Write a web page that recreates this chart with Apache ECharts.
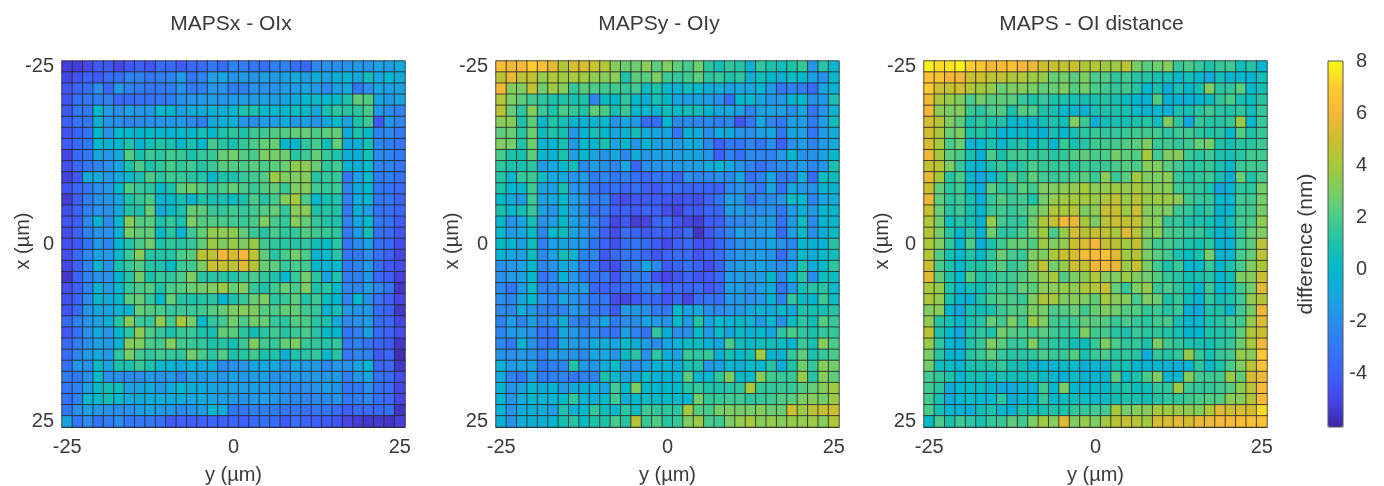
<!DOCTYPE html>
<html>
<head>
<meta charset="utf-8">
<title>MAPS - OI</title>
<script src="https://cdn.jsdelivr.net/npm/echarts@6/dist/echarts.min.js"></script>
<style>
  html, body { margin: 0; padding: 0; background: #fff; }
  #chart { width: 1384px; height: 486px; }
</style>
</head>
<body>
<div id="chart"></div>
<script>
// difference values in nm, 33 rows x 33 columns
const mapsX = [
  [-5.2,-5.3,-5,-4.2,-4.3,-5,-4.4,-4,-4.4,-3.5,-3.6,-4.2,-3.7,-3.5,-3,-3.5,-2.5,-2.8,-3,-3.3,-2.7,-2.4,-3.2,-3.7,-2.3,-2,-2,-1.8,-1.6,-1.8,-1.2,-1.4,-0.8],
  [-5,-4.6,-4,-4.2,-3.5,-3.2,-2.5,-2.5,-3,-2.7,-2.5,-1.5,-3,-2.5,-1.3,-1,-1.8,-1.5,-1.8,-1.2,-1.5,-1.2,-0.7,-1.3,-0.5,-1.2,-0.5,-0.3,-0.9,0.5,-0.9,-0.1,-0.7],
  [-4.5,-3.8,-3.4,-2,-3.7,-1.5,-2.5,-2.8,-3,-3,-2.8,-1.8,-2.8,-2.6,-1.6,-1.7,-2.8,-2.6,-2,-2,-1.9,-1.4,-1.5,-1,-1.5,-2.2,-1.2,-0.8,-3,-2,-1,-1.3,-1.2],
  [-4.5,-3.3,-3,-2.6,-2.6,-3.7,-3.7,-3.2,-3.2,-2.9,-2.7,-1.8,-1.7,-1.5,-1.4,-1.7,-1.6,-1.3,-1.4,-1.1,-1.3,-1,-0.7,0,0.3,0,0.1,0.9,2.4,2.2,-1,-1.5,-1],
  [-4.3,-3,-3,0,-1.5,-2,-1.2,-1.8,-1.5,-0.1,-0.2,-1.2,-0.6,-0.6,-0.3,-0.5,-0.1,0.9,0.9,0,0,-0.1,0.3,0.1,-0.8,0.8,1.3,1.2,1.3,2,-1.5,-2,-2.5],
  [-4,-3.2,-3,-0.5,-1.8,-2,-2.4,-2.1,-2,-1.8,-1.5,-1.6,-2.3,-2.7,-0.8,-0.5,-0.4,-1.7,-2,-1.4,-1.4,-0.6,-1.5,-1.2,-1.7,-0.8,0,-1.1,1,1.7,-4.3,-1.6,-2.3],
  [-4.5,-3.8,-3.1,0,-1.8,0,-0.1,-0.2,0,-0.1,-0.3,0.1,-0.1,0.7,0,1,1.4,1,1.7,1.7,2.2,2.2,2.5,2.5,2,2.4,2.5,-0.6,1,0,-2.5,-2.2,-3],
  [-4.1,-3.5,-3,-0.1,-0.4,-0.2,1,-0.2,0.6,1.1,0.8,0,0.9,-0.1,1.9,1.2,0.8,1.5,2,2.5,2.6,-0.2,-0.1,1.4,1.9,0.5,2.5,-0.7,-0.5,0.8,-2.3,-2.6,-3],
  [-5,-3.7,-3,-0.9,-1.7,-0.8,2.2,0.8,1.7,1.3,1.8,1.6,0.9,1.5,1.6,2.5,2.8,2.2,2,3,2.8,2.7,1.3,1.7,2.5,1.6,1,-0.5,-0.5,0.7,-2.2,-2.4,-3],
  [-4.7,-3.7,-3,-2.5,-2,-1,0.9,2,1,1.4,2,1.5,1.7,1.2,1.7,2.3,2.2,2,2.3,2,2.3,2.6,3.4,3.4,2.6,1.4,1.8,-0.3,-0.5,0.1,-2.4,-2.5,-3.1],
  [-5.2,-4.3,-0.7,-0.7,-1.6,-0.8,0,0.8,2.1,1.3,1.8,1.6,1.2,1.1,0,1,1,1.5,1.8,2.2,3.8,3,3,3.2,1.2,1.5,1.6,-3,-1.3,0,-2.8,-2.6,-3.2],
  [-4.5,-3.7,-3.1,-2,-1.6,-0.1,2.1,1.5,1.3,0.1,0.9,2.4,2.7,2.2,1.6,2,2.5,2,1.6,2.2,2.5,1.6,3,3.2,1.8,1.5,1.7,-2.3,-0.7,-0.1,-3,-3.2,-3.6],
  [-5.3,-4.1,-2.8,-1.8,-1.7,-1,0.9,1.5,2,-0.3,0,0.7,-0.2,1,0.8,0.8,0.3,0.9,2,1.2,1.9,3.2,4,2,0,0.7,1,-2.5,-0.8,-0.2,-3,-3,-3.8],
  [-4.7,-3.9,-2.6,-1.9,-1.9,-0.7,1.1,0.9,2.5,-0.7,0.2,0.9,2.5,2.4,1.6,1.5,1.8,1.5,1.8,2.2,2.5,1.5,3.3,3.3,1,1.2,1.1,-2.8,-0.5,-1.4,-3.2,-3.2,-3.8],
  [-4.5,-4,-2.3,-0.3,-2.2,-0.1,3.3,2.2,2.3,0.9,1.5,0.8,3,2.2,2.2,2,1.8,1.6,2,3,2,1.5,3.2,2.5,1.5,1.1,1,-2.5,-1,0,-3,-3.2,-4.2],
  [-4.8,-4,-2.6,-1.8,-1.9,-0.4,2.9,2.4,2.5,0,1.3,-0.3,1.7,2.5,3.5,3.5,3.4,2.4,1.6,1.2,2,1.4,1.5,2.2,1.8,1.6,1.4,-2.8,-1.5,0.6,-3.2,-3.5,-4.5],
  [-4.7,-4.3,-3.1,-1.5,-2.4,-0.2,1.1,2,2.7,1,1.5,1.3,1.5,2.4,3.8,3,3.6,3,3.7,1.8,1.4,1.3,1.2,1.4,0.6,0.2,1.2,-3,-2.2,-1.2,-3.4,-3.7,-4.7],
  [-4.8,-3.5,-2.3,-1.2,-1.6,-0.1,1.6,3.2,1.2,1.1,1.2,2,2.2,4.6,4.6,6,5.2,6,4.6,2.4,1.2,2,2.8,2,-0.3,0,1.2,-3,-3,-2,-3.3,-3.8,-5],
  [-5,-4,-2.6,-0.2,-1.8,0.8,1.5,2.2,1.2,1,0.2,1.7,1.8,3,5,4.8,4.5,5.5,4.4,2.5,2.4,1.5,2,1.8,0,-0.3,0,-3,-2.6,-1.5,-3.6,-4.2,-4.7],
  [-5.5,-4,-2.5,-1.8,-2,-0.2,1.2,2.8,1,1.5,1.4,2,3,1.2,1.2,1.2,1,1.5,2,1.4,1,-0.2,1.6,2.8,1.3,-1,1,-2.8,-2.6,-1.6,-3.7,-4.1,-5.2],
  [-4.8,-4,-2.6,-0.3,-1.4,-0.1,1.5,2,2.2,1,2,2.2,2.6,2.8,3,3.8,2.6,3,1.5,1,1.8,2.5,2,3,1,1.3,0,-2.4,-2.4,-1.3,-2.3,-3,-5.5],
  [-4.6,-3.8,-2.2,0,-0.7,0,2.3,2.5,1.5,0,2.5,1.2,1,1.1,1.2,-0.2,0.9,1.5,2.5,3,1.3,1.6,2.4,1.1,1.7,0.3,-0.1,-2.4,-0.1,-2,-3.2,-4,-5],
  [-4.5,-3.6,-1.8,-1,-1.1,-0.3,-0.2,2.5,2.2,2,1.5,1.7,1.6,1.8,2.2,2.5,3,3.2,3,2.2,2,2.5,2.5,1.8,1.5,-0.3,0.7,-1.5,-1.8,-1.6,-3.5,-3.8,-5.5],
  [-3.5,-2.5,-1.8,-1.2,-0.4,1.2,3.2,1.7,1.5,3.5,1.8,4,2.8,0,1.4,1.8,2.8,2,2.8,2.5,1.5,1.3,2.2,2,1.2,0.9,-0.8,-2.2,-1.8,-1.4,-3.5,-3.7,-5],
  [-4.4,-3.3,-2,-0.8,-1.7,-0.1,1.3,3.4,2,1.5,0.9,1.6,1.6,1,0.8,2.5,2.3,1.3,0.6,1.2,1.8,1.2,1.6,2,1.2,0.1,-0.1,-3,-2.6,-1.3,-3.5,-4,-4.8],
  [-3.7,-2.7,-2,-1.2,-1.5,-0.3,3.2,3,2,1.8,3.2,1.8,1.6,1.5,1,1.2,0.7,1.7,3,1.8,1.5,2.5,3,1.6,1.4,1.2,1.5,-3,-2.5,-3.2,-3.8,-4.2,-5.5],
  [-3.4,-2.5,-1.5,-0.8,-1.5,1.3,2.9,1.8,1.4,1.8,1.5,1.4,2.8,2,1.3,2.2,0.9,1.2,1.8,0.9,1,-0.5,1,1.2,1.4,-0.1,1.2,-3,-2.5,-2.5,-4.3,-3.7,-5.8],
  [-3.3,-1.7,-2,0.2,-1,0.9,0.8,1.5,1,0,-0.2,-0.7,-0.4,-0.8,-0.5,-2.2,-2,-1.7,-1,-0.9,-0.7,-2,-1,-1.5,-1.5,-2.3,-1.7,-1.8,-1.2,-0.3,-3.8,-3.6,-5.5],
  [-2.8,-3,-2,0,-2,-2,-2.2,-2.1,-1.6,-1.8,-1.5,-2.5,-1.3,-1.5,-1.3,-1.7,-1.2,-1.5,-1.4,-1.2,-2,-1.7,-1.5,-1.6,-1.5,-1.8,-1.5,-2.7,-1.7,-1,-3.3,-3.5,-4.8],
  [-3,-2.5,-1.3,0.2,0.6,0.5,-1.2,-1,-0.8,-1.5,-0.7,-0.1,-0.5,-0.7,-1,-1.2,-1.3,-1.3,-1.2,-1.5,-1.5,-2,-2.3,-2,-1.8,-1.5,-1.8,-3,-3,-2,-3.3,-3.6,-5],
  [-3.2,-2.6,-0.2,0,0.6,0,-0.8,-0.7,-0.6,-0.5,-0.7,-0.5,-1,-0.8,-1,-1.4,-1.6,-1.8,-1.5,-1.3,-1.6,-2,-2.2,-2.4,-2.3,-2.2,-1.7,-3,-2.8,-2.4,-3.3,-3.6,-5],
  [-3,-2,-1.3,-1.5,-1.7,-2,-2,-1.3,-1,-1.5,-1.5,-2.2,-1.8,-1.4,-0.2,-0.7,-3,-3,-2.5,-2.7,-2.8,-3,-3,-3.2,-3,-3,-3.4,-4,-3.6,-3.6,-3.6,-3.2,-5.6],
  [-1,-3,-2.2,-3.2,-2.8,-2.2,-3,-3,-3,-3.2,-4.2,-4,-4.2,-4,-3.8,-4,-3.8,-4,-3.7,-3.3,-3.5,-4.2,-3.6,-3.9,-4.1,-4.2,-4.5,-5,-5.3,-5.5,-5.4,-5.6,-5.2]
]
const mapsY = [
  [6.3,5.8,6.2,7,6.4,5.6,4.2,5.3,5.2,4.9,4.3,3.2,2.6,2.7,3.3,2.3,3.1,2.4,1.9,2.7,1.4,0.6,1.4,1.2,-0.4,1.4,1,0.5,1,1.6,-1.7,1.2,-0.2],
  [4.6,5.7,4.5,4.7,3.6,4.2,3.8,4,3.8,3.4,3.2,3.3,1,2.4,2.3,3,1.7,1.5,1.8,2.4,1.3,1.5,1,1.3,-0.5,0.6,0,-0.5,0.3,-0.1,-1.2,-1.8,0],
  [6,3.2,3,4.8,2.7,3.8,3.2,1.5,2.3,2,1.8,1.8,1.5,1.8,0.2,1,0,-0.3,0.5,0,-0.6,-0.5,-1.2,-0.9,-1,-0.3,-1.5,-3,-2.5,-2.8,-3.5,-1,-0.3],
  [4.3,3,2.4,1.8,1.3,1,1,0.8,1,-2.3,0.3,0,1.4,0,-0.5,0.8,0,-1,-1.4,-1,-1.5,-2,-3.5,-0.1,0,-1,-1.7,-1.5,-0.2,0,-1.8,-1.6,0.8],
  [4.5,2.5,1.3,3.2,1.6,1,2,1.5,1.1,2.4,2,0.7,1.6,0,-0.1,-0.2,0.5,0.1,0.6,0.5,-0.3,-0.9,-0.9,-1.2,-2.5,-1.2,-1,-1.3,-2,-1,-3,-1.7,-0.4],
  [3.3,3.2,1,2.4,0,1.1,0.7,-0.2,-0.4,-0.3,0,-1.8,-0.9,-1.5,-3.6,-3.4,-0.1,-2.3,-2.2,-2.3,-2.3,-2.6,-2.2,-4.5,-3,-0.9,-2.5,-2.9,-1.2,-1.3,-2.8,-1.3,0.5],
  [2.4,2.6,1.2,2.7,0.4,1.1,0.8,-1.5,-0.2,0.7,0,-1,-0.3,0.6,-0.8,-1,-1,-3,-0.4,-0.8,-2,-0.8,-0.7,-1.6,-1.9,-1.2,-1,-3,-1,-1.2,-3,-1.4,-0.6],
  [3,2.8,1,2.7,-0.3,-0.2,0.8,-1.5,0,-0.2,0.9,-1,0,-1.7,-0.2,-1.2,-1.1,-1.6,-0.8,-0.8,-2.2,-4,-3,-3,-2.3,-3,-2,-4,-2,-1.3,-2.4,-1.4,-0.8],
  [1.9,1,0.8,2.4,0,-0.4,0.9,-1.3,-0.1,-1,-1.8,-0.8,-2.3,-0.8,-1.7,-1.2,-1.1,-1.4,-1,-1,-1.8,-4.1,-2.6,-3.2,-2.2,-2.4,-2.6,-1.6,0,-1.8,-1.7,-1.2,0],
  [1.4,0.9,0.9,1.3,-1.5,-0.8,-0.1,0.5,-2.2,-1.5,-1.8,-2.4,-0.9,-3.8,-2,-1.8,-1.5,-1.5,-1.4,-1.2,-0.8,-0.3,-0.7,-1.8,-2.5,-3.2,-2.6,-2.1,-1.8,-1.4,-2.4,-1.7,0.8],
  [1.2,-0.2,1.5,1.7,0.3,-0.9,-0.7,-1.7,-1.4,-2.8,-2.3,-3,-2.6,-3.2,-3.6,-3,-3,-3.8,-1.9,-2.4,-2.3,-2,-2.2,-1,-3.2,-2.5,-1,-3,-2.8,-0.5,-3.6,0.4,0.3],
  [1,-0.1,0,1.7,-1,-1.2,0.8,-1.7,-1.9,-3.3,-3.5,-3.2,-3.8,-3.2,-4,-4.3,-3.4,-3.6,-3.8,-3.8,-3.8,-4,-2.4,-1.9,-2.2,-3,-1,-3.2,-1,-1.6,-1.8,-0.3,-0.2],
  [0,-0.7,-1.5,1.7,-1.2,-0.8,0,-1.3,-1.9,-2.9,-2.6,-4.5,-4.7,-4.4,-4.3,-4.1,-4.5,-4.6,-4.4,-4.7,-3.8,-3,-1.3,-1.5,-3.2,-2.2,-2.2,-1.7,0.3,-0.1,-2.5,-1,-0.6],
  [0.9,-0.1,0.6,1.5,-1.1,-1.7,-0.1,-1.3,-1.8,-3.3,-3,-4.2,-4,-4.3,-3.9,-4,-4.8,-5.1,-4.1,-4.3,-3.8,-3.8,-1.5,-1.3,-2,-2.1,-1.8,-3,-1.4,-0.5,-1.5,-0.2,-0.2],
  [0,-1.7,-1,0.7,-1.9,-1.3,0.1,-1.2,-1.8,-2.6,-3.6,-5,-4.3,-5.3,-5.1,-3.8,-3.5,-4.4,-5,-5.3,-4.2,-4.1,-2.6,-2.3,-2.1,-1.4,-1.5,-3.2,-1.5,0.3,-2.2,-0.2,-0.1],
  [0,-1.4,-0.9,0.2,-2.4,0.1,0.4,-1.1,-1.9,-2.5,-4,-4.8,-3.3,-3.8,-4.3,-3.8,-4.1,-4.4,-3.6,-5.6,-4.3,-3.5,-2.6,-1.1,-1.8,-1.6,-1.4,-3.5,-1.3,0.2,-2,-0.5,0.2],
  [0.2,-0.2,-1.2,0.5,-2.6,-1.3,-1,-1.5,-1.7,-3.2,-3.9,-4.6,-3.4,-3.1,-3.5,-4.2,-4.9,-4,-3.5,-4.6,-4.6,-3.8,-2.8,-2,-1.6,-1.6,-1,-1.8,-2.4,0,-0.4,-0.4,1.2],
  [-0.3,-1,-1.3,0.4,-2.2,-1.2,0.6,-0.3,-2.5,-2.3,-4.3,-3.6,-3,-3.1,-3.7,-4.5,-3.8,-3.5,-3.6,-4.5,-3.8,-3.5,-2.2,-1.6,-1.5,-1.3,-1.8,-3.5,-1.7,0,-0.6,0,0.4],
  [-2,-1.7,-1.2,0,-2.4,-1.8,-0.7,-1.2,-2.8,-3.1,-4.5,-4.7,-3.2,-2.7,-1,-2.2,-4.2,-3.8,-3.3,-4,-4.8,-3.8,-2,-1.3,-1.3,-1,-1.6,-2.2,-1.5,1,-0.7,0,1.3],
  [-2,-1.6,-1.2,0,-3.2,-2.4,-0.3,-1.6,-2.8,-3.2,-3,-4.5,-3,-2.8,-2.8,-4.6,-5,-4.4,-3.9,-4.4,-4.3,-3.7,-1.6,-1.3,-1.5,-1.3,0,-2.2,-0.2,1.2,-2,0.4,0.3],
  [-2.2,-3,-1.5,0.2,-2.6,-2.3,-2,-1.6,-1.3,-3.7,-4,-3.8,-3.4,-3.2,-2.8,-2.3,-4,-3.6,-3.8,-3.6,-4.4,-3.8,-1.4,-1.2,-2,-1.2,-0.5,-3,-1.6,0.6,1.2,1.2,0.1],
  [-2,-2.4,-1,-0.1,-2,-2.5,-0.9,-1.8,-2.4,-3,-3,-4.8,-5,-4.3,-3.4,-3.8,-4.5,-3.8,-5,-3.4,-3.1,-3.2,-1.6,-1.5,-1.9,-1.6,-0.2,-2.4,1.4,0.2,-0.2,1.7,0.3],
  [-2.2,-2.3,-0.6,-1.7,-2.6,-2.8,-2.4,-1.5,-2,-3.2,-3,-4.3,-1.4,-1.5,-2,-2.9,-2.9,0,-1,-0.9,-2,-2.3,-1.7,-1.5,-0.8,-0.3,-0.8,0,-0.8,1,0.7,0.7,1.2],
  [-2.6,-1.2,-2.5,-1.2,-2.5,-2,-0.5,-2.4,-3,-2,-1,-2.8,-2.1,-2,-1,-1.5,-1.8,0.1,-1.5,1.1,-1.1,0,-0.4,0.1,-0.3,-1.5,-0.1,-2,0.2,1.3,0.5,2.2,1.5],
  [-2.4,-1.6,-1.2,-2,-3.2,-3.2,-0.9,-1.5,-2.4,-2.4,-3,-3.2,-1.2,-2.5,-3.3,1.4,-0.5,-2,-2,0.2,-1.5,0.3,-1,0.2,-0.4,0.1,-1,1.3,2,1.4,0.9,1.5,1.5],
  [-2.2,-3,-0.2,-1.8,-3,-3.2,-0.8,-1.5,-1.8,-0.6,-0.6,-1,0.2,-0.5,-1.4,-2,-1,-0.4,0.3,0.4,-0.4,-0.9,2,0.5,0.1,0.5,0.6,0.3,-0.2,1.7,0.7,3.2,2],
  [-1.8,-2,-1.5,-1.8,-2.6,-1.5,-1.5,-1.8,-2.2,-0.9,-0.9,-1.8,0.1,1.2,-1.9,1.3,-0.6,-1.1,1.6,1.3,1.5,-0.5,0.7,0.1,0.6,3.8,-0.2,-0.4,1.5,2.4,0.9,1.5,2],
  [-0.4,-1.5,-1,-1.2,-3,-2.5,-2.5,1,-1.6,-1.8,-0.7,0.1,-1.5,-2,-1.3,-0.3,-0.3,-0.5,0.8,1,-1.6,-1.2,0,-0.5,0,-0.1,1.2,-0.6,1,2.7,1.5,3.2,2.8],
  [-0.7,-2.5,-3,-1.4,-2.8,-2.6,-2.4,-3,-2.6,-2.5,0.9,0,-1,-0.6,0.2,-0.3,-0.3,-0.2,2.3,-0.2,-0.1,1.4,3,0.1,0,3.2,1.8,1.6,1.6,3.7,1.2,3.2,2.4],
  [-0.3,-1.8,-1.2,0,-0.6,-0.3,-1.5,-0.8,-0.5,-0.4,-1,1.8,0,3,0,-0.1,0,0,1.2,1.5,1,1,1.2,1.4,4,1.5,1.5,1.6,1.6,2.2,2.5,3.2,3.9],
  [-0.3,-1.7,-0.8,0,-0.4,-0.3,0,1.4,-0.3,-0.5,0,1.8,-0.5,0,0.2,0.1,0.1,0,-0.2,2.8,1.5,1.6,1.8,1.8,1.3,1.5,1.8,2.2,2.3,3,3.2,2.8,3.8],
  [-0.4,-1.8,-0.6,-0.5,-0.6,-1.3,1,-0.3,0,1.4,0.5,0,1.3,0.3,1.7,1.4,1.4,1.3,4,2.2,2,2.8,3,2.8,2.8,3.2,2.6,2.6,5,3.8,4.5,4.8,5],
  [-0.4,-1.7,-0.6,-0.5,-0.5,-0.2,0.8,1.2,0.3,1,1,2,1.2,4.4,1.6,2.2,1.2,1.6,3,3.7,2,1.8,3,3.5,4,3.2,3.6,3.2,3.6,3.5,3.8,3.2,4.2]
]
const mapsDist = [
  [7.8,7.3,7.5,7.8,7,6.8,5.9,6.3,6.5,6,5.8,5,4.8,4.6,5,4.2,4.3,3.8,3.8,4.6,2.9,2.3,2.7,3.2,1.5,2,1.5,1,1.5,1.7,0.4,1.2,-0.2],
  [6.5,6.5,6,5.9,4.9,5.1,4.6,4.7,4.3,4.3,3.7,3.6,2.5,2.8,2.3,3,2,2.2,1.4,1.8,1.2,1.2,0.8,0.8,-0.1,0.6,0,-0.9,0.6,-0.2,0,-0.3,0.6],
  [6.9,5,4.7,5.1,4.4,3.9,3.6,2.6,3,3.2,2.9,2.4,2.5,3,2.2,2.8,2,1.8,1.5,1.8,1.2,-0.1,0.8,-0.5,0.8,0,0.7,3,1.3,1.4,2.3,-0.1,0.6],
  [5.8,4.2,3.6,3,2,2.8,2.3,2.4,2.3,1.5,1,1.5,1,0.9,0.7,0.7,0.8,1.1,0.8,0.3,-0.2,-0.3,2.2,-0.4,-0.4,-0.4,-0.2,0.3,1.4,2,0.8,0.4,1.2],
  [5.9,3.4,2.9,3.2,1.6,1.3,2,2.2,0.8,2.2,1.9,1,0.8,0,-0.2,-0.3,0.8,1,1,0.8,-0.1,-0.2,0,-0.4,0.8,0.8,1.3,1.8,1.2,1,1.4,0.5,1.5],
  [5.2,4.4,3,2.4,0.8,1.4,1,1,-0.1,-0.1,-0.2,0.6,1,0.6,3,1.7,-0.5,0.6,0.8,0.6,0.9,1.2,0.5,3,1.4,-0.8,1.5,1.2,1.2,1.6,3.8,-0.1,1.5],
  [5.1,4.2,2.6,3,0.9,1.1,0.7,-0.3,-0.1,0.2,-0.1,-0.3,0.8,-0.1,0.6,1.3,1.6,1.4,1.5,1.6,1.8,1.8,1.8,1.3,1.7,1.8,1.3,1.1,1.2,0,2.2,1,1.6],
  [5.2,4,2,2.6,-0.4,-0.1,0.9,-0.1,0.8,1.2,0,1,-0.2,1.6,0.7,1.2,1.8,1.8,1.8,2.2,2.3,3,1.6,1.8,1.4,1.8,2.5,2.8,1,0.7,1.2,1.3,1.7],
  [5.7,4,2.4,2,0.8,-0.5,2,0.9,1.8,1.8,1.5,1.6,1.2,1.5,2.2,2.4,2,2,2.8,2.4,2.2,4,1.8,3,3.2,1.7,1.3,1.7,1,0.7,1.2,1.8,1.8],
  [4.7,4.4,3,1.5,-0.1,-0.3,0.9,1.6,0.8,1.3,2,1.6,1.5,1.7,1.2,1.8,1.6,1.6,2,2.2,2,3.2,3,2.3,1.8,1.3,1.3,1.6,0.9,0,1.6,1.8,1.8],
  [5.6,4,1.2,2,0,-1,-0.2,1,2.2,1.4,2.4,1.8,1.5,1.8,2,2.3,1.6,3.3,1.6,2.3,3.9,3,3,3.3,1.6,1.2,1.4,1.7,0.8,-0.5,2.6,1,2],
  [5,2.5,1.3,1.8,0,-0.6,2.3,1.4,1.4,2.3,1.8,3,3,3.3,3.5,4,3.3,3.5,3.8,3.5,4,3.6,3.2,3.3,1.7,1.6,1.4,0.9,-1,-0.3,1.4,1.3,2.8],
  [5.7,2.4,1.3,1.7,0.8,-0.6,1.5,2.2,1.7,1.8,1,2.8,3.5,3.8,4,4,3.7,4.3,4.8,3.7,4.5,3.7,3.8,3.7,3.3,1.8,1.5,1.5,0,-0.1,1.8,1.8,2.8],
  [4.8,2.6,1.2,1.7,0.8,-0.1,1.6,1.8,1.5,1.9,2.5,3,4.2,4,4.3,3,3.4,4.8,4.9,3.8,4.9,3.2,3,3,1.7,1.5,0.9,1.4,-0.2,-0.1,1.7,1.8,2.8],
  [4.3,2.7,0.5,1.2,0.7,-0.3,3.6,1.8,1.5,1.4,2.8,4.2,4.7,5.8,5.6,4,3,4.5,5,4.6,4.8,3.5,3.2,1.5,1.5,0.9,1,0.7,-0.2,0.6,1.8,2,3.4],
  [4.4,2.9,1.2,-0.2,1.2,-0.3,2.7,1.3,1.3,2,2.8,3.9,2,3.6,5.2,4.4,4.8,4.6,4,5.5,4.5,3,3.3,2,1.8,1.5,1.5,0.8,-0.2,0,1.5,2.5,3],
  [4.1,3.1,1.5,-0.2,2.2,-0.5,0.9,1.8,2.5,2.6,2.2,3.8,3,3.5,5,5.4,6,4.7,4.5,3.9,4.8,2.8,1.7,1.9,1.5,1,0.7,1.3,-0.2,-0.4,1.7,2.3,4.5],
  [4.4,2.2,0.7,0,1.1,-0.1,1.4,2.6,1.9,1.5,3,3,4.1,4.9,5.2,6.3,6.2,6.5,5.5,3.8,4.4,2.9,2.3,1.8,0.8,0.3,0.9,2.9,-0.3,-0.2,1.9,2.5,4.5],
  [5,2,1,-0.1,1,1,1.7,2.3,1.5,2,3.2,4.7,2.8,3.5,5,4.8,5.9,6.3,5.7,3.7,4.8,2.9,1.8,0.9,1.6,-0.1,0,1.6,-0.2,1,1.9,3,4.1],
  [5.5,2.4,1,-0.1,2.2,1.1,1.2,1.6,1.8,2.2,2.8,3.5,4,2.2,2.9,3.4,4.3,3.2,3.1,3.8,3,2.7,2.2,1.5,1.2,0.6,0.8,1.2,-0.1,0.5,3,3.2,5],
  [4,3.6,1,-0.2,0.6,0.5,1.5,1.8,1.6,2.5,2.3,3.3,3.3,3.6,3.4,4.2,4.3,4.9,2.5,1.5,3,3.6,1.6,2,1.4,0.8,-0.2,1.7,-0.1,0.4,1.8,2.8,5.5],
  [4.1,3.5,0.9,-0.3,-0.4,1,1.8,2.2,2,1.6,3,4.2,4,3,3.2,3,2.4,4,3.2,3.2,1.9,3,2.6,1,1.6,0.4,-0.3,1.5,0.6,1,1.7,3.5,4.4],
  [3.1,3.2,-0.2,-1,0.8,0.5,0.9,1.7,2.1,2.2,3,2.8,2,2.2,2.6,1.8,2.6,3,2.7,2.2,2.2,1.5,1.7,1.2,1.6,-0.4,-0.8,1,1,-0.1,1.8,2.8,5.8],
  [3.5,1.2,0.6,-0.2,0.8,1.2,2.5,1.8,3,1.8,3.8,3,1.8,1.6,1.8,2.4,2.2,2.2,1.6,2,1.5,1.3,1.8,1.9,0.7,-0.2,-0.1,1,1.2,1.8,1.8,3.6,5.4],
  [4.5,0.9,-0.1,-1,1,1.4,1,2.8,2.2,2,1.8,2.3,1.7,1.5,1.5,3,1.8,1.9,1.2,0.9,1.6,1.3,1.4,1,0.8,-0.2,-0.1,1,1.1,1.3,2.4,4.2,5],
  [3.6,1.4,-0.1,-0.5,1,1.5,3,2.3,1.5,1.5,3,1.5,1.3,1.2,0.5,0.4,1.6,3,2,1.4,1.5,1,3,1.8,1.4,1,0.8,0.7,1.2,1.6,2.6,4.1,5.8],
  [2.9,1.2,-0.2,-0.3,1.2,1.6,2.4,1.5,1.2,1.2,1.4,2,1.5,1.6,2.2,0.8,1.6,2,1.2,1.4,1.2,-0.6,1.4,1.1,1.4,3.6,1.5,0.7,1.5,1.8,3.7,3.2,6.8],
  [2.8,0.5,0.2,-0.2,0.7,1,1.1,1.5,0.7,0.6,-0.3,-0.2,-0.3,0.2,0,-0.6,-0.2,-0.3,0.8,0.7,-0.2,-0.3,-0.2,-0.4,-0.5,-0.3,1.3,0,1,2,3,4.5,6.5],
  [1.8,1.5,1,-0.1,0.6,0.7,0.2,0.8,0.6,0.4,0.8,0.2,-0.1,-0.5,0.3,-0.3,-0.2,-0.2,2.3,0,1,2,3,-0.2,-0.1,3.2,1.8,1.7,1.8,3.7,2.4,5.2,5.8],
  [1.8,1.3,-0.7,0,0.2,0.3,-0.2,-0.8,-0.8,-0.1,-0.4,1.8,-0.1,2.9,-0.1,-0.3,0.2,0,0.8,1,0.4,0.6,1.4,1.4,3.8,1.7,1.5,1.5,1.8,2.2,3.4,4.5,6.2],
  [1.8,0.8,-0.8,-0.1,0.2,-0.1,-0.1,1.3,-0.6,-0.1,-0.2,1.5,-0.1,0.4,0.5,0.3,0,0.2,0.6,1,0.8,0.6,1.2,1.4,1.4,1.8,2,2.2,2.2,3.4,3.2,4.4,6.2],
  [2,0.7,-0.2,-0.3,-0.5,0.6,1,-0.2,-0.3,1,0.5,0.8,1,1,1.4,1.5,1.8,1.8,4,2.8,3.2,3.2,4,3.8,3.7,3.4,3.2,4.2,5.5,5,5.3,5.1,7.3],
  [0.2,2,0.9,1.7,1.3,0.9,1.5,1.6,2.4,1.8,3,3.9,3.2,5.5,3,3.6,3,3.9,4.4,4.8,4.4,3.8,5.3,5.3,5.6,5.1,5.7,5.8,6.1,6.2,6.4,6.4,6.5]
]

const panelTitles = ['MAPSx - OIx', 'MAPSy - OIy', 'MAPS - OI distance']
const panelData = [mapsX, mapsY, mapsDist]
const axisTicks = [-25, 0, 25]
const barTicks = [-4, -2, 0, 2, 4, 6, 8]
const colorStops = ['#3e26a8', '#4645e6', '#3c60ff', '#3276f8', '#2a8eec', '#18a4e2', '#00b9cc', '#1cc2ab', '#48cc8c', '#7ccd64', '#a5c93c', '#ccbe2e', '#f6b63a', '#fdcb2e', '#f9fb15']

const textColor = '#3a3a3a'
const lineColor = '#333333'
const fontFamily = 'Liberation Sans'
const fontSize = 20
const titleSize = 21
const panelLefts = [62, 496, 924]
const titleCentres = [231, 659, 1091.5]
const yNameGaps = [29, 34, 32]
const panelWidth = 343
const gridTop = 61
const gridHeight = 366
// ticks sit on the centres of the first and last cells
const axisEnd = 25 + 25 / 32

const chart = echarts.init(document.getElementById('chart'))

const indexLabels = mapsX[0].map((_, i) => i)
const grids = []
const xAxes = []
const yAxes = []
const series = []
const titles = []

panelTitles.forEach((name, p) => {
  grids.push({ left: panelLefts[p], top: gridTop, width: panelWidth, height: gridHeight, outerBoundsMode: 'none' })
  titles.push({
    text: name,
    left: titleCentres[p],
    top: 14,
    padding: 0,
    textAlign: 'center',
    textStyle: { color: textColor, fontFamily, fontSize: titleSize, fontWeight: 'normal' }
  })
  // hidden category axes carry the cells, value axes carry the ticks
  xAxes.push({ type: 'category', gridIndex: p, data: indexLabels, show: false, position: 'top' })
  yAxes.push({ type: 'category', gridIndex: p, data: indexLabels, show: false, inverse: true, position: 'right' })
  xAxes.push({
    type: 'value', gridIndex: p, position: 'bottom', min: -axisEnd, max: axisEnd,
    name: 'y (µm)', nameLocation: 'middle', nameGap: 38, nameMoveOverlap: false,
    nameTextStyle: { color: textColor, fontFamily, fontSize },
    axisLine: { onZero: false, lineStyle: { color: lineColor } },
    axisTick: { show: false },
    splitLine: { show: false },
    axisLabel: { color: textColor, fontFamily, fontSize, margin: 10, customValues: axisTicks }
  })
  yAxes.push({
    type: 'value', gridIndex: p, position: 'left', min: -axisEnd, max: axisEnd, inverse: true,
    name: 'x (µm)', nameLocation: 'middle', nameGap: yNameGaps[p], nameRotate: 90, nameMoveOverlap: false,
    nameTextStyle: { color: textColor, fontFamily, fontSize, padding: [0, 0, 0, 6] },
    axisLine: { onZero: false, lineStyle: { color: lineColor } },
    axisTick: { show: false },
    splitLine: { show: false },
    axisLabel: { color: textColor, fontFamily, fontSize, margin: 8, padding: [0, 0, 13, 0], customValues: axisTicks }
  })
  const cells = []
  panelData[p].forEach((row, r) => row.forEach((v, c) => cells.push([c, r, v])))
  series.push({
    type: 'heatmap',
    xAxisIndex: p * 2,
    yAxisIndex: p * 2,
    data: cells,
    progressive: 0,
    itemStyle: { borderColor: 'rgba(38,38,38,0.8)', borderWidth: 1 },
    emphasis: { disabled: true }
  })
})

// colour bar axis sits on its own grid, the gradient itself is the visualMap
grids.push({ left: 1328, top: gridTop, width: 15, height: gridHeight, outerBoundsMode: 'none', show: true, z: 10, backgroundColor: 'transparent', borderColor: '#555555', borderWidth: 1 })
xAxes.push({ type: 'value', gridIndex: 3, show: false })
yAxes.push({
  type: 'value', gridIndex: 3, position: 'right', min: -6.05, max: 8,
  axisLine: { show: false },
  axisTick: { show: false },
  splitLine: { show: false },
  axisLabel: { color: textColor, fontFamily, fontSize, margin: 24, align: 'right', customValues: barTicks }
})
yAxes.push({
  type: 'value', gridIndex: 3, position: 'left', min: -6.05, max: 8,
  name: 'difference (nm)', nameLocation: 'middle', nameGap: 11, nameRotate: 90, nameMoveOverlap: false,
  nameTextStyle: { color: textColor, fontFamily, fontSize: titleSize },
  axisLine: { show: false },
  axisTick: { show: false },
  splitLine: { show: false },
  axisLabel: { show: false }
})

chart.setOption({
  animation: false,
  backgroundColor: '#ffffff',
  title: titles,
  grid: grids,
  xAxis: xAxes,
  yAxis: yAxes,
  series,
  visualMap: {
    type: 'continuous',
    seriesIndex: [0, 1, 2],
    min: -6.05,
    max: 8,
    calculable: false,
    hoverLink: false,
    realtime: false,
    left: 1328,
    top: gridTop,
    padding: 0,
    itemWidth: 15,
    itemHeight: gridHeight,
    text: null,
    showLabel: false,
    inRange: { color: colorStops }
  }
})

window.addEventListener('resize', () => chart.resize())
</script>
</body>
</html>
